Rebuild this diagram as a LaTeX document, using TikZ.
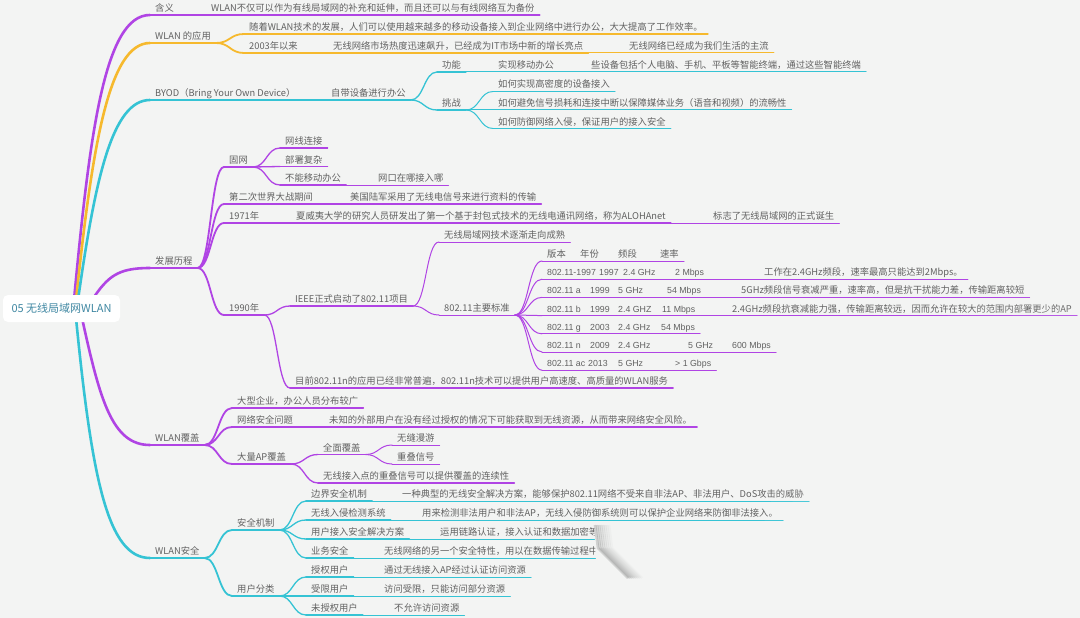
\documentclass[tikz,border=0pt]{standalone}
\usepackage{fontspec}
\setmainfont{Noto Sans CJK SC}
\newfontfamily\lat{Liberation Sans}
\usetikzlibrary{calc}
\definecolor{bg}{HTML}{F3F4F3}
\definecolor{pur}{HTML}{B044E4}
\definecolor{ora}{HTML}{F6B92D}
\definecolor{tea}{HTML}{35C3D4}
\definecolor{txt}{HTML}{616161}
\definecolor{rootc}{HTML}{3F87A2}
\newcommand\fs{\fontsize{9.3}{11}\selectfont}
\newcommand\tfs{\lat\fontsize{8.8}{11}\selectfont}
\newcommand\N[5]{\node[tx] (#1) at (#2,#3) {#5\hspace{5pt}}; \draw[#4] (#1.south west) -- (#1.south east);}
\newcommand\C[3]{\draw[#1] let \p1=(#2.south east), \p2=(#3.south west) in (\p1) .. controls ($(\p1)!0.5!(\x2,\y1)$) and ($(\p2)!0.5!(\x1,\y2)$) .. (\p2);}
\begin{document}
\begin{tikzpicture}[x=1pt,y=-1pt,
  tx/.style={anchor=south west, inner xsep=5pt, inner ysep=2.3pt, text height=7pt, text depth=1pt, font=\fs, text=txt},
  L1/.style={line width=2.6pt, line cap=round},
  L2/.style={line width=1.8pt, line cap=round},
  L3/.style={line width=1.3pt, line cap=round},
  L4/.style={line width=1.0pt, line cap=round}]
\useasboundingbox (0,0) rectangle (1080,618);
\fill[bg] (0,0) rectangle (1080,618);

% level 1 nodes
\N{n1}{150}{15}{L1,pur}{含义}
\N{n2}{150}{43}{L1,ora}{WLAN 的应用}
\N{n3}{150}{100}{L1,tea}{BYOD（Bring Your Own Device）}
\N{n4}{150}{268}{L1,pur}{发展历程}
\N{n5}{150}{445}{L1,pur}{WLAN覆盖}
\N{n6}{150}{558}{L1,tea}{WLAN安全}

% root curves
\draw[L1,pur] (74,300) .. controls (90,130) and (105,15) .. (n1.south west);
\draw[L1,ora] (76,300) .. controls (92,150) and (108,43) .. (n2.south west);
\draw[L1,tea] (78,300) .. controls (95,180) and (112,100) .. (n3.south west);
\draw[L1,pur] (92,300) .. controls (108,276) and (118,268) .. (n4.south west);
\draw[L1,pur] (82,318) .. controls (100,400) and (112,445) .. (n5.south west);
\draw[L1,tea] (76,318) .. controls (92,480) and (108,558) .. (n6.south west);
\node[fill=white, rounded corners=5pt, minimum width=117pt, minimum height=27pt, inner sep=0pt, font=\fontsize{11}{13}\selectfont, text=rootc] (root) at (61.5,308.5) {05 无线局域网WLAN};

% 含义
\N{n1a}{206}{15}{L2,pur}{WLAN不仅可以作为有线局域网的补充和延伸，而且还可以与有线网络互为备份}
\C{L2,pur}{n1}{n1a}

% WLAN 的应用
\N{n2a}{244}{34}{L2,ora}{随着WLAN技术的发展，人们可以使用越来越多的移动设备接入到企业网络中进行办公，大大提高了工作效率。}
\N{n2b}{244}{53}{L2,ora}{2003年以来}
\N{n2b1}{328}{53}{L3,ora}{无线网络市场热度迅速飙升，已经成为IT市场中新的增长亮点}
\N{n2b2}{624}{53}{L4,ora}{无线网络已经成为我们生活的主流}
\C{L2,ora}{n2}{n2a}
\C{L2,ora}{n2}{n2b}
\C{L3,ora}{n2b}{n2b1}
\C{L4,ora}{n2b1}{n2b2}

% BYOD
\N{n3a}{326}{100}{L2,tea}{自带设备进行办公}
\N{n3b}{437}{72}{L3,tea}{功能}
\N{n3b1}{493}{72}{L4,tea}{实现移动办公}
\N{n3b2}{586}{72}{L4,tea}{些设备包括个人电脑、手机、平板等智能终端，通过这些智能终端}
\N{n3c}{437}{110}{L3,tea}{挑战}
\N{n3c1}{493}{91.5}{L4,tea}{如何实现高密度的设备接入}
\N{n3c2}{493}{110}{L4,tea}{如何避免信号损耗和连接中断以保障媒体业务（语音和视频）的流畅性}
\N{n3c3}{493}{128.5}{L4,tea}{如何防御网络入侵，保证用户的接入安全}
\C{L2,tea}{n3}{n3a}
\C{L3,tea}{n3a}{n3b}
\C{L3,tea}{n3a}{n3c}
\C{L4,tea}{n3b}{n3b1}
\C{L4,tea}{n3b1}{n3b2}
\C{L4,tea}{n3c}{n3c1}
\C{L4,tea}{n3c}{n3c2}
\C{L4,tea}{n3c}{n3c3}

% 发展历程
\N{n4a}{224}{167}{L2,pur}{固网}
\N{n4a1}{280}{148}{L3,pur}{网线连接}
\N{n4a2}{280}{166.5}{L3,pur}{部署复杂}
\N{n4a3}{280}{185}{L3,pur}{不能移动办公}
\N{n4a3a}{373}{185}{L4,pur}{网口在哪接入哪}
\N{n4b}{224}{204}{L2,pur}{第二次世界大战期间}
\N{n4b1}{345}{204}{L3,pur}{美国陆军采用了无线电信号来进行资料的传输}
\N{n4c}{224}{223}{L2,pur}{1971年}
\N{n4c1}{291}{223}{L3,pur}{夏威夷大学的研究人员研发出了第一个基于封包式技术的无线电通讯网络，称为ALOHAnet}
\N{n4c2}{708}{223}{L4,pur}{标志了无线局域网的正式诞生}
\N{n4d}{224}{315}{L2,pur}{1990年}
\N{n4d1}{290}{306}{L3,pur}{IEEE正式启动了802.11项目}
\N{n4d1a}{439}{242}{L4,pur}{无线局域网技术逐渐走向成熟}
\N{n4d1b}{439}{315}{L4,pur}{802.11主要标准}
\N{n4d2}{290}{388}{L3,pur}{目前802.11n的应用已经非常普遍，802.11n技术可以提供用户高速度、高质量的WLAN服务}
\C{L2,pur}{n4}{n4a}
\C{L2,pur}{n4}{n4b}
\C{L2,pur}{n4}{n4c}
\C{L2,pur}{n4}{n4d}
\C{L3,pur}{n4a}{n4a1}
\C{L3,pur}{n4a}{n4a2}
\C{L3,pur}{n4a}{n4a3}
\C{L4,pur}{n4a3}{n4a3a}
\C{L3,pur}{n4b}{n4b1}
\C{L3,pur}{n4c}{n4c1}
\C{L4,pur}{n4c1}{n4c2}
\C{L3,pur}{n4d}{n4d1}
\C{L3,pur}{n4d}{n4d2}
\C{L4,pur}{n4d1}{n4d1a}
\C{L4,pur}{n4d1}{n4d1b}

% 802.11 table
\N{r0}{542}{261}{L4,pur}{\makebox[33pt][l]{版本}\makebox[38pt][l]{年份}\makebox[42pt][l]{频段}速率}
\N{r1}{542}{279.2}{L4,pur}{\tfs\makebox[52pt][l]{802.11-1997}\makebox[24pt][l]{1997}\makebox[52pt][l]{2.4 GHz}2 Mbps}
\N{r2}{542}{297.4}{L4,pur}{\tfs\makebox[43pt][l]{802.11 a}\makebox[28pt][l]{1999}\makebox[49pt][l]{5 GHz}54 Mbps}
\N{r3}{542}{315.6}{L4,pur}{\tfs\makebox[43pt][l]{802.11 b}\makebox[28pt][l]{1999}\makebox[44pt][l]{2.4 GHZ}11 Mbps}
\N{r4}{542}{333.8}{L4,pur}{\tfs\makebox[43pt][l]{802.11 g}\makebox[28pt][l]{2003}\makebox[43pt][l]{2.4 GHz}54 Mbps}
\N{r5}{542}{352}{L4,pur}{\tfs\makebox[43pt][l]{802.11 n}\makebox[28pt][l]{2009}\makebox[70pt][l]{2.4 GHz}\makebox[44pt][l]{5 GHz}600 Mbps}
\N{r6}{542}{370.2}{L4,pur}{\tfs\makebox[41pt][l]{802.11 ac}\makebox[30pt][l]{2013}\makebox[57pt][l]{5 GHz}> 1 Gbps}
\N{r1a}{759}{279.2}{L4,pur}{工作在2.4GHz频段，速率最高只能达到2Mbps。}
\N{r2a}{736}{297.4}{L4,pur}{5GHz频段信号衰减严重，速率高，但是抗干扰能力差，传输距离较短}
\N{r3a}{727}{315.6}{L4,pur}{2.4GHz频段抗衰减能力强，传输距离较远，因而允许在较大的范围内部署更少的AP}
\foreach \r in {r0,r1,r2,r3,r4,r5,r6} {\C{L4,pur}{n4d1b}{\r}}
\C{L4,pur}{r1}{r1a}
\C{L4,pur}{r2}{r2a}
\C{L4,pur}{r3}{r3a}

% WLAN覆盖
\N{n5a}{232}{408}{L2,pur}{大型企业，办公人员分布较广}
\N{n5b}{232}{427}{L2,pur}{网络安全问题}
\N{n5b1}{324}{427}{L3,pur}{未知的外部用户在没有经过授权的情况下可能获取到无线资源，从而带来网络安全风险。}
\N{n5c}{232}{464}{L2,pur}{大量AP覆盖}
\N{n5c1}{318}{454.5}{L3,pur}{全面覆盖}
\N{n5c1a}{392}{445}{L4,pur}{无缝漫游}
\N{n5c1b}{392}{464}{L4,pur}{重叠信号}
\N{n5c2}{318}{483}{L3,pur}{无线接入点的重叠信号可以提供覆盖的连续性}
\C{L2,pur}{n5}{n5a}
\C{L2,pur}{n5}{n5b}
\C{L2,pur}{n5}{n5c}
\C{L3,pur}{n5b}{n5b1}
\C{L3,pur}{n5c}{n5c1}
\C{L3,pur}{n5c}{n5c2}
\C{L4,pur}{n5c1}{n5c1a}
\C{L4,pur}{n5c1}{n5c1b}

% WLAN安全
\N{n6a}{232}{530}{L2,tea}{安全机制}
\N{n6a1}{306}{501}{L3,tea}{边界安全机制}
\N{n6a1a}{397}{501}{L4,tea}{一种典型的无线安全解决方案，能够保护802.11网络不受来自非法AP、非法用户、DoS攻击的威胁}
\N{n6a2}{306}{520}{L3,tea}{无线入侵检测系统}
\N{n6a2a}{417}{520}{L4,tea}{用来检测非法用户和非法AP，无线入侵防御系统则可以保护企业网络来防御非法接入。}
\N{n6a3}{306}{539}{L3,tea}{用户接入安全解决方案}
\N{n6a3a}{435}{539}{L4,tea}{运用链路认证，接入认证和数据加密等}
\N{n6a4}{306}{558}{L3,tea}{业务安全}
\N{n6a4a}{379}{558}{L4,tea}{无线网络的另一个安全特性，用以在数据传输过程中}
\N{n6b}{232}{596}{L2,tea}{用户分类}
\N{n6b1}{306}{577}{L3,tea}{授权用户}
\N{n6b1a}{379}{577}{L4,tea}{通过无线接入AP经过认证访问资源}
\N{n6b2}{306}{596}{L3,tea}{受限用户}
\N{n6b2a}{379}{596}{L4,tea}{访问受限，只能访问部分资源}
\N{n6b3}{306}{615}{L3,tea}{未授权用户}
\N{n6b3a}{389}{615}{L4,tea}{不允许访问资源}
\C{L2,tea}{n6}{n6a}
\C{L2,tea}{n6}{n6b}
\foreach \c in {n6a1,n6a2,n6a3,n6a4} {\C{L3,tea}{n6a}{\c}}
\foreach \c in {n6b1,n6b2,n6b3} {\C{L3,tea}{n6b}{\c}}
\C{L4,tea}{n6a1}{n6a1a}
\C{L4,tea}{n6a2}{n6a2a}
\C{L4,tea}{n6a3}{n6a3a}
\C{L4,tea}{n6a4}{n6a4a}
\C{L4,tea}{n6b1}{n6b1a}
\C{L4,tea}{n6b2}{n6b2a}
\C{L4,tea}{n6b3}{n6b3a}

% page curl at the bottom right corner
\fill[bg] (594,523) -- (720,523) -- (720,578) -- (645,586) -- (596,562) -- cycle;
\foreach \i/\o in {0/0.14,2/0.12,4/0.10,6/0.08,8/0.06,10/0.045,12/0.03,14/0.02}
  \draw[line width=2.6pt, black, opacity=\o] (595+\i,525) -- (598+\i,548) -- (628+\i,578);
\foreach \r in {330,310,...,70}
  \fill[white, opacity=0.06] (1080,618) circle (\r);
\end{tikzpicture}
\end{document}
